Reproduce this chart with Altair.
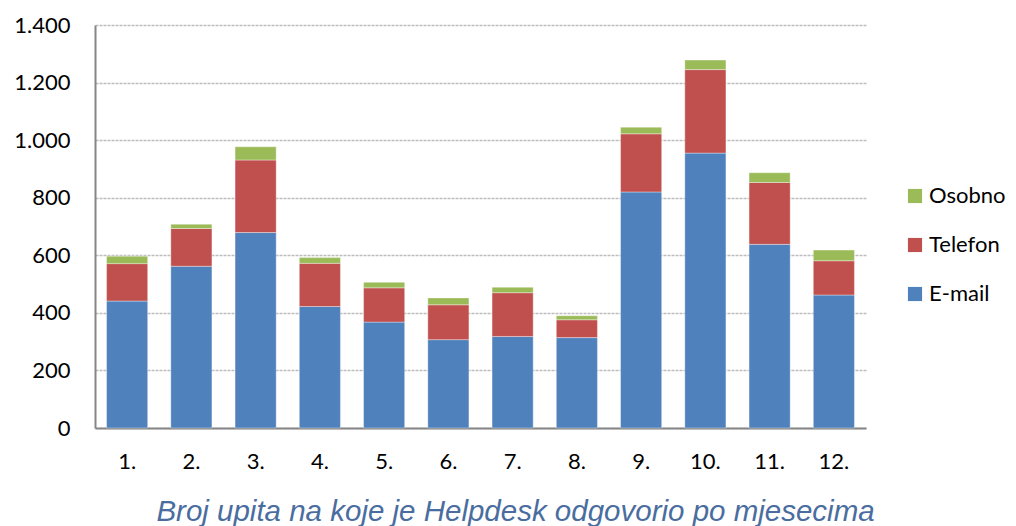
import altair as alt
import pandas as pd

# Monthly helpdesk answers by channel
months = ["1.", "2.", "3.", "4.", "5.", "6.", "7.", "8.", "9.", "10.", "11.", "12."]
email = [441, 562, 679, 422, 368, 307, 318, 314, 820, 955, 638, 462]
telefon = [130, 131, 252, 150, 119, 121, 152, 62, 202, 290, 215, 119]
osobno = [26, 15, 46, 20, 19, 24, 19, 14, 23, 33, 34, 37]

channels = ["Osobno", "Telefon", "E-mail"]
colors = ["#9BBB59", "#C0504D", "#4F81BD"]
stack_rank = {"E-mail": 0, "Telefon": 1, "Osobno": 2}

rows = []
for i, m in enumerate(months):
    for name, series in (("E-mail", email), ("Telefon", telefon), ("Osobno", osobno)):
        rows.append({"mjesec": m, "kanal": name, "broj": series[i], "rang": stack_rank[name]})
df = pd.DataFrame(rows)

font = "Lato"

chart = (
    alt.Chart(df)
    .mark_bar(stroke="white", strokeWidth=0.6, strokeOpacity=0.6)
    .encode(
        x=alt.X(
            "mjesec:N",
            sort=months,
            title=None,
            scale=alt.Scale(paddingInner=0.36, paddingOuter=0.18),
            axis=alt.Axis(
                labelAngle=0,
                ticks=False,
                labelPadding=23,
                labelFontSize=22,
                labelFont=font,
                labelColor="#000000",
                domainColor="#868686",
                domainWidth=2,
                grid=False,
            ),
        ),
        y=alt.Y(
            "sum(broj):Q",
            title=None,
            stack="zero",
            scale=alt.Scale(domain=[0, 1400], nice=False),
            axis=alt.Axis(
                values=[0, 200, 400, 600, 800, 1000, 1200, 1400],
                labelExpr="replace(format(datum.value, ','), ',', '.')",
                ticks=False,
                labelPadding=25,
                labelFontSize=22,
                labelFont=font,
                labelColor="#000000",
                domainColor="#868686",
                domainWidth=2,
                gridColor="#BDBDBD",
                gridWidth=1.4,
                gridDash=[3, 1],
            ),
        ),
        color=alt.Color(
            "kanal:N",
            scale=alt.Scale(domain=channels, range=colors),
            legend=alt.Legend(
                title=None,
                orient="none",
                legendX=809,
                legendY=160,
                symbolType="square",
                symbolSize=200,
                symbolStrokeWidth=0,
                symbolOpacity=1,
                labelFontSize=22,
                labelFont=font,
                labelColor="#000000",
                labelOffset=3,
                rowPadding=27,
                padding=0,
            ),
        ),
        order=alt.Order("rang:Q", sort="ascending"),
    )
    .properties(
        width=771,
        height=403,
        autosize=alt.AutoSizeParams(type="none"),
        padding={"left": 95, "top": 25, "right": 150, "bottom": 98},
        title=alt.TitleParams(
            "Broj upita na koje je Helpdesk odgovorio po mjesecima",
            orient="bottom",
            anchor="middle",
            baseline="alphabetic",
            font="Liberation Sans",
            fontSize=29.5,
            fontStyle="italic",
            fontWeight="normal",
            color="#4A6DA0",
            offset=49,
            dx=35,
        ),
    )
    .configure_view(stroke=None)
)

chart.save("out.html", embed_options={"renderer": "svg", "actions": False})
